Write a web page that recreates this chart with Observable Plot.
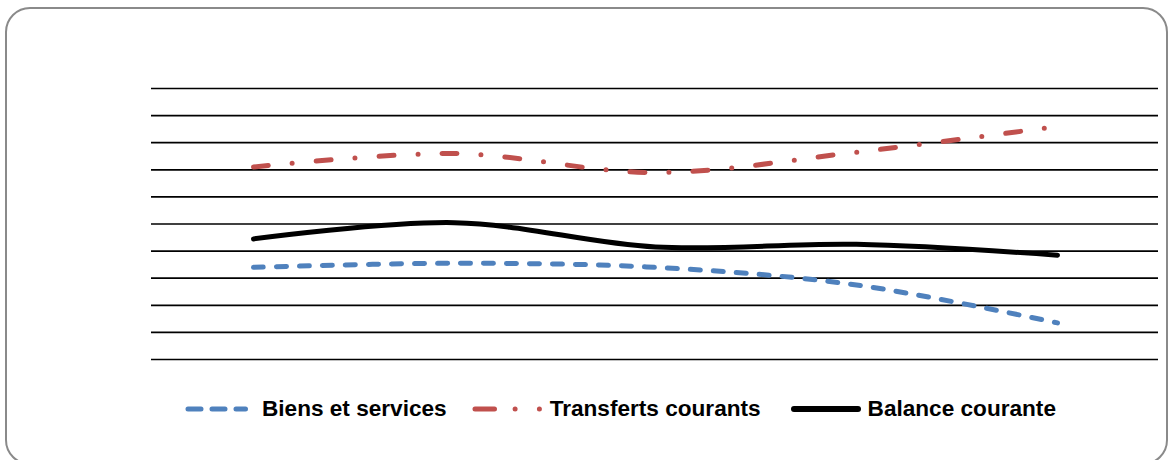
<!DOCTYPE html>
<html lang="fr">
<head>
<meta charset="utf-8">
<script src="https://cdn.jsdelivr.net/npm/d3@7"></script>
<script src="https://cdn.jsdelivr.net/npm/@observablehq/plot@0.6"></script>
<style>
  html, body { margin: 0; padding: 0; background: #fff; }
  #page { position: relative; width: 1171px; height: 460px; overflow: hidden; background: #fff; }
  #title {
    position: absolute; left: 22px; top: -20px; white-space: nowrap;
    font: bold 19px/19px "Liberation Serif", "DejaVu Serif", serif; color: #000;
  }
  #frame {
    position: absolute; left: 5px; top: 7px; width: 1163px; height: 458px;
    box-sizing: border-box; border: 2px solid #8a8a8a; border-radius: 25px;
  }
  #chart { position: absolute; left: 0; top: 0; }
  #legend {
    position: absolute; left: 185px; top: 395px; height: 28px;
    display: flex; align-items: center; white-space: nowrap;
    font: bold 22.6px/28px "Liberation Sans", Arial, sans-serif; color: #000;
  }
  #legend svg { display: block; }
</style>
</head>
<body>
<div id="page">
  <div id="title">Figure 4 : Évolution de la balance courante et ses composantes</div>
  <div id="chart"></div>
  <div id="legend"></div>
  <div id="frame"></div>
</div>
<script>
// Annual periods (category axis, not labelled)
const periods = ["2009", "2010", "2011", "2012", "2013"];

// Series, in % of GDP
const biensServices = [-5.2, -4.9, -5.2, -6.5, -9.3];
const transfertsCourants = [2.2, 3.2, 1.8, 3.3, 5.2];
const balanceCourante = [-3.1, -1.9, -3.7, -3.5, -4.3];

// Horizontal gridlines
const gridValues = [-12, -10, -8, -6, -4, -2, 0, 2, 4, 6, 8];

const seriesNames = ["Biens et services", "Transferts courants", "Balance courante"];
const seriesColors = ["#4F81BD", "#C0504D", "#000000"];

const toRows = (values) => periods.map((p, i) => ({period: p, value: values[i]}));

const chart = Plot.plot({
  width: 1171,
  height: 380,
  marginLeft: 151,
  marginRight: 13,
  marginTop: 88,
  marginBottom: 21,
  style: {background: "transparent"},
  x: {type: "point", domain: periods, padding: 0.5, axis: null},
  y: {domain: [-12, 8], axis: null},
  marks: [
    Plot.ruleY(gridValues, {stroke: "#000", strokeWidth: 1.7}),
    Plot.line(toRows(biensServices), {
      x: "period", y: "value", curve: "catmull-rom",
      stroke: seriesColors[0], strokeWidth: 5,
      strokeDasharray: "10 13", strokeLinecap: "round"
    }),
    Plot.line(toRows(transfertsCourants), {
      x: "period", y: "value", curve: "catmull-rom",
      stroke: seriesColors[1], strokeWidth: 5,
      strokeDasharray: "15 24 0 24", strokeLinecap: "round"
    }),
    Plot.line(toRows(balanceCourante), {
      x: "period", y: "value", curve: "catmull-rom",
      stroke: seriesColors[2], strokeWidth: 5, strokeLinecap: "round"
    })
  ]
});
document.getElementById("chart").appendChild(chart);

// Legend: swatch + label for each series
const legendSpecs = [
  {w: 63, dash: "13 11", x2: 60.5, width: 5, gap: 14, after: 25},
  {w: 71, dash: "19.5 20.6 0 24.3 0 200", x2: 68, width: 5, gap: 7, after: 30},
  {w: 70, dash: null, x2: 67, width: 6, gap: 7, after: 0}
];
const legend = d3.select("#legend");
seriesNames.forEach((name, i) => {
  const s = legendSpecs[i];
  const sw = legend.append("svg").attr("width", s.w).attr("height", 12)
    .style("margin-right", s.gap + "px");
  const ln = sw.append("line")
    .attr("x1", 3).attr("x2", s.x2).attr("y1", 6).attr("y2", 6)
    .attr("stroke", seriesColors[i]).attr("stroke-width", s.width)
    .attr("stroke-linecap", "round");
  if (s.dash) ln.attr("stroke-dasharray", s.dash);
  legend.append("span").text(name).style("margin-right", s.after + "px");
});
</script>
</body>
</html>
